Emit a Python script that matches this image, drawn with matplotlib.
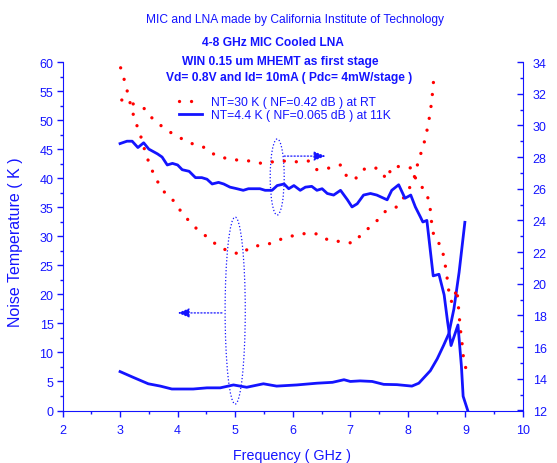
import matplotlib
matplotlib.use("Agg")
import matplotlib.pyplot as plt
from matplotlib import font_manager
from matplotlib.patches import Ellipse
from matplotlib.lines import Line2D
from matplotlib.ticker import MultipleLocator

# --- data ---
freq_gain_11k = [3.0, 3.12, 3.21, 3.31, 3.41, 3.50, 3.65, 3.73, 3.82, 3.91, 4.0, 4.08,
                 4.2, 4.31, 4.42, 4.51, 4.6, 4.71, 4.8, 4.91, 5.03, 5.14, 5.23, 5.32,
                 5.43, 5.52, 5.64, 5.73, 5.85, 5.93, 6.02, 6.13, 6.22, 6.33, 6.42, 6.51,
                 6.6, 6.71, 6.83, 6.95, 7.03, 7.12, 7.23, 7.35, 7.46, 7.64, 7.72, 7.84,
                 7.95, 8.05, 8.13, 8.22, 8.26, 8.33, 8.44, 8.54, 8.63, 8.69, 8.75, 8.87,
                 8.93, 8.96, 9.04]
gain_11k = [28.85, 29.0, 29.0, 28.6, 28.9, 28.5, 28.2, 28.0, 27.5, 27.6, 27.5, 27.2,
            27.1, 26.7, 26.7, 26.6, 26.3, 26.4, 26.3, 26.1, 26.0, 25.9, 26.0, 26.0,
            26.0, 25.9, 25.9, 26.2, 26.3, 26.0, 26.2, 25.9, 26.1, 26.15, 25.9, 26.0,
            25.7, 25.6, 25.9, 25.3, 24.85, 25.05, 25.6, 25.7, 25.6, 25.3, 25.9, 26.25,
            25.4, 25.6, 24.85, 24.2, 23.9, 24.0, 20.5, 20.6, 19.3, 17.6, 16.1, 17.4,
            14.8, 12.9, 12.0]

freq_nt_11k = [3.0, 3.23, 3.49, 3.70, 3.9, 4.27, 4.51, 4.74, 4.97, 5.2, 5.49, 5.72,
               6.07, 6.42, 6.69, 6.89, 7.0, 7.17, 7.38, 7.58, 7.81, 8.07, 8.19, 8.39,
               8.51, 8.62, 8.71, 8.8, 8.89, 8.99]
nt_11k = [6.7, 5.7, 4.6, 4.2, 3.7, 3.7, 3.9, 3.9, 4.4, 4.0, 4.6, 4.2,
          4.4, 4.7, 4.85, 5.3, 5.0, 5.1, 5.0, 4.5, 4.45, 4.2, 4.7, 6.85,
          8.9, 11.2, 13.2, 17.5, 23.8, 32.4]

freq_nt_rt = [3.01, 3.08, 3.14, 3.20, 3.27, 3.36, 3.42, 3.5, 3.61, 3.75, 3.93, 4.07,
              4.27, 4.47, 4.68, 4.88, 5.1, 5.26, 5.46, 5.64, 5.82, 6.01, 6.23, 6.43,
              6.64, 6.84, 7.05, 7.23, 7.41, 7.62, 7.82, 7.98, 8.1, 8.16, 8.23, 8.30,
              8.35, 8.39, 8.42, 8.44, 8.47]
nt_rt = [59.0, 56.7, 54.4, 51.9, 49.7, 47.2, 45.1, 42.7, 40.1, 37.8, 36.1, 34.1,
         31.8, 30.2, 28.5, 27.4, 26.9, 28.1, 28.5, 28.8, 29.6, 30.1, 30.5, 30.4,
         29.2, 29.1, 28.8, 30.7, 32.1, 34.4, 35.1, 37.4, 39.7, 42.1, 44.4, 46.7,
         49.1, 51.4, 53.8, 56.2, 58.5]

freq_gain_rt = [3.03, 3.23, 3.41, 3.57, 3.74, 3.90, 4.10, 4.28, 4.47, 4.66, 4.86, 5.06,
                5.26, 5.46, 5.66, 5.87, 6.07, 6.27, 6.42, 6.62, 6.83, 6.95, 7.08, 7.26,
                7.46, 7.64, 7.72, 7.9, 8.07, 8.16, 8.3, 8.37, 8.40, 8.42, 8.47, 8.58,
                8.63, 8.67, 8.70, 8.73, 8.78, 8.85, 8.87, 8.89, 8.91, 8.94, 8.96, 9.01]
gain_rt = [31.6, 31.35, 31.1, 30.4, 29.9, 29.5, 29.1, 28.8, 28.6, 28.1, 27.9, 27.8,
           27.75, 27.6, 27.7, 27.75, 27.7, 27.75, 27.2, 27.3, 27.5, 26.7, 26.6, 27.3,
           27.3, 26.6, 27.4, 27.4, 27.3, 26.4, 25.9, 25.2, 24.4, 23.5, 22.8, 22.4,
           21.6, 20.7, 19.85, 19.0, 18.8, 19.7, 18.9, 18.05, 17.2, 16.3, 15.5, 14.6]

label_rt = "NT=30 K ( NF=0.42 dB ) at RT"
label_11k = "NT=4.4 K ( NF=0.065 dB ) at 11K"
title = "MIC and LNA made by California Institute of Technology"
notes = ["4-8 GHz MIC Cooled LNA",
         "WIN 0.15 um MHEMT as first stage",
         "Vd= 0.8V and Id= 10mA ( Pdc= 4mW/stage )"]

BLUE = "#1414ff"
RED = "#ff0000"
W, H = 557, 464

# narrow font if present, otherwise shrink the regular one
names = {f.name for f in font_manager.fontManager.ttflist}
if "Liberation Sans Narrow" in names:
    FONT, K = "Liberation Sans Narrow", 1.0
else:
    FONT, K = "Liberation Sans", 0.82
plt.rcParams["font.family"] = [FONT, "DejaVu Sans"]


def px(x, y):
    return x / W, 1 - y / H


fig = plt.figure(figsize=(W / 100, H / 100), dpi=100)
x0, y0 = 62.5, 411.5
x1, y1 = 523, 63
ax = fig.add_axes([x0 / W, 1 - y0 / H, (x1 - x0) / W, (y0 - y1) / H])
ax2 = ax.twinx()

dots = dict(ls=(0, (0.01, 3.6)), lw=2.4, dash_capstyle="round", color=RED)
l_rt, = ax.plot(freq_nt_rt, nt_rt, **dots)
ax2.plot(freq_gain_rt, gain_rt, **dots)
l_11k, = ax.plot(freq_nt_11k, nt_11k, color=BLUE, lw=2.0)
ax2.plot(freq_gain_11k, gain_11k, color=BLUE, lw=2.0)

ax.set_xlim(2, 10)
ax.set_ylim(0, 60)
ax2.set_ylim(12, 34)
ax.xaxis.set_major_locator(MultipleLocator(1))
ax.xaxis.set_minor_locator(MultipleLocator(0.5))
ax.yaxis.set_major_locator(MultipleLocator(5))
ax.yaxis.set_minor_locator(MultipleLocator(2.5))
ax2.yaxis.set_major_locator(MultipleLocator(2))
ax2.yaxis.set_minor_locator(MultipleLocator(1))

for s in ["top", "right"]:
    ax.spines[s].set_visible(False)
for s in ["top", "left", "bottom"]:
    ax2.spines[s].set_visible(False)
for s in ["left", "bottom"]:
    ax.spines[s].set_color(BLUE)
ax2.spines["right"].set_color(BLUE)

tick_fs = 11 * K
ax.tick_params(axis="x", which="both", direction="out", colors=BLUE,
               labelsize=tick_fs, pad=6, width=1)
ax.tick_params(axis="y", which="both", direction="out", colors=BLUE,
               labelsize=tick_fs, pad=2.5, width=1)
ax2.tick_params(axis="y", which="both", direction="in", colors=BLUE,
                labelsize=tick_fs, pad=7, width=1)
for a in (ax, ax2):
    a.tick_params(which="major", length=4)
    a.tick_params(which="minor", length=2.5)

# texts
fig.text(*px(295, 22.5), title, color=BLUE, fontsize=10.5 * K,
         ha="center", va="baseline")
for txt, cx, by in zip(notes, [273, 280, 289.5], [46.5, 65, 81.5]):
    fig.text(*px(cx, by), txt, color=BLUE, fontsize=10.5 * K,
             fontweight="bold", ha="center", va="baseline")

fig.text(*px(292, 460), "Frequency ( GHz )", color=BLUE, fontsize=12.5 * K,
         ha="center", va="baseline")
fig.text(*px(16, 242), "Noise Temperature ( K )", color=BLUE, fontsize=11.5,
         family=["Liberation Sans", "DejaVu Sans"], rotation=90,
         ha="center", va="center")

leg_rt = Line2D([], [], **dots)
ax2.legend([leg_rt, l_11k], [label_rt, label_11k], loc="upper left",
           bbox_to_anchor=px(179, 97), bbox_transform=fig.transFigure,
           frameon=False, borderpad=0, borderaxespad=0, handlelength=1.9,
           handletextpad=0.75, labelspacing=0.12, labelcolor=BLUE,
           prop={"size": 10.7 * K})

# ellipses and arrows marking which curves go with which axis
ax.add_patch(Ellipse((5.73, 40.2), 0.243, 13.1, fill=False, ec=BLUE,
                     ls=":", lw=0.9))
ax.add_patch(Ellipse((5.0, 17.2), 0.35, 32.2, fill=False, ec=BLUE,
                     ls=":", lw=0.9))
arrow = dict(arrowstyle="-|>,head_length=0.7,head_width=0.28", color=BLUE,
             lw=0.9, ls=":", shrinkA=0, shrinkB=0)
ax.annotate("", xy=(6.57, 43.8), xytext=(5.85, 43.8), arrowprops=arrow)
ax.annotate("", xy=(4.0, 16.8), xytext=(4.77, 16.8), arrowprops=arrow)

fig.savefig("out.png", dpi=100)
